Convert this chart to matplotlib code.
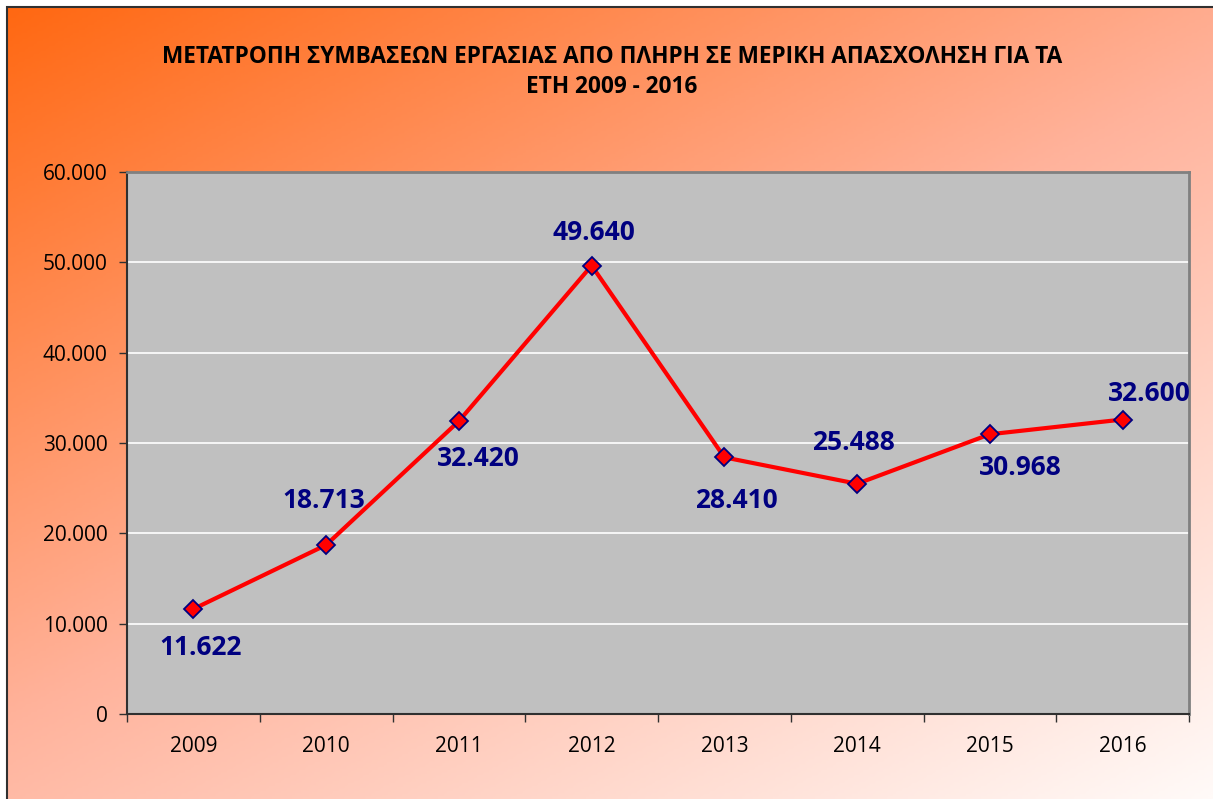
import matplotlib
matplotlib.use('Agg')
import matplotlib.pyplot as plt
import numpy as np
from matplotlib.colors import LinearSegmentedColormap
from matplotlib.patches import Rectangle
from matplotlib.ticker import FuncFormatter, MultipleLocator

years = ['2009', '2010', '2011', '2012', '2013', '2014', '2015', '2016']
values = [11622, 18713, 32420, 49640, 28410, 25488, 30968, 32600]
labels = ['11.622', '18.713', '32.420', '49.640', '28.410', '25.488', '30.968', '32.600']
title = 'ΜΕΤΑΤΡΟΠΗ ΣΥΜΒΑΣΕΩΝ ΕΡΓΑΣΙΑΣ ΑΠΟ ΠΛΗΡΗ ΣΕ ΜΕΡΙΚΗ ΑΠΑΣΧΟΛΗΣΗ ΓΙΑ ΤΑ\nΕΤΗ 2009 - 2016'

# where each data label sits relative to its marker (points)
label_dx = [5, -2, 14, 2, 9, -3, 22, 19]
label_dy = [-28, 32, -27, 24, -31, 30, -24, 19]

plt.rcParams['font.family'] = ['Open Sans', 'DejaVu Sans']

W, H = 1213, 799
fig = plt.figure(figsize=(W / 100, H / 100), dpi=100)
fig.patch.set_facecolor('white')

# gradient background of the chart area
bg = fig.add_axes([7 / W, 0, 1 - 7 / W, 1 - 7 / H])
bg.set_axis_off()
u = np.linspace(0, 1, 400)
v = np.linspace(0, 1, 300)
U, V = np.meshgrid(u, v)
T = 0.45 * U + 0.55 * V
cmap = LinearSegmentedColormap.from_list('sunset', [(0, '#FF6812'), (0.5, '#FFB39C'), (1, '#FFFAF8')])
bg.imshow(T, cmap=cmap, aspect='auto', extent=[0, 1, 0, 1], origin='upper', vmin=0, vmax=1)
bg.set_xlim(0, 1)
bg.set_ylim(0, 1)
fig.add_artist(Rectangle((7 / W, -0.01), 1.0, 1 - 7 / H + 0.01, transform=fig.transFigure,
                         fill=False, edgecolor='#303030', linewidth=1.5))

ax = fig.add_axes([127 / W, 1 - 714 / H, (1189 - 127) / W, (714 - 172) / H])
ax.set_facecolor('#C0C0C0')
x = np.arange(len(years))

ax.plot(x, values, color='#FF0000', linewidth=3, marker='D', markersize=9,
        markerfacecolor='#FF0000', markeredgecolor='#000080', markeredgewidth=1.3, zorder=3)

for xi, val, lab, dx, dy in zip(x, values, labels, label_dx, label_dy):
    ax.annotate(lab, (xi, val), xytext=(dx, dy), textcoords='offset points',
                ha='center', va='center', fontsize=19, fontweight='bold', color='#000080',
                annotation_clip=False, zorder=4)

ax.set_xlim(-0.5, len(years) - 0.5)
ax.set_ylim(0, 60000)
ax.yaxis.set_major_locator(MultipleLocator(10000))
ax.yaxis.set_major_formatter(FuncFormatter(lambda y, p: '0' if y == 0 else '{:,.0f}'.format(y).replace(',', '.')))
ax.grid(axis='y', color='white', linewidth=1.2)
ax.set_axisbelow(True)

ax.set_xticks(x)
ax.set_xticklabels(years)
ax.set_xticks(np.arange(-0.5, len(years), 1), minor=True)
ax.tick_params(axis='x', which='major', length=0, pad=16, labelsize=15)
ax.tick_params(axis='x', which='minor', length=6, width=1, color='#303030')
ax.tick_params(axis='y', length=6, width=1, color='#303030', labelsize=15, pad=8)

for s in ['left', 'bottom']:
    ax.spines[s].set_color('#303030')
    ax.spines[s].set_linewidth(1.5)
for s in ['top', 'right']:
    ax.spines[s].set_color('#808080')
    ax.spines[s].set_linewidth(2)

fig.text(612 / W, 1 - 72 / H, title, ha='center', va='center', fontsize=16.3, fontweight='bold',
         color='black', linespacing=1.35)

fig.savefig('out.png', dpi=100)
